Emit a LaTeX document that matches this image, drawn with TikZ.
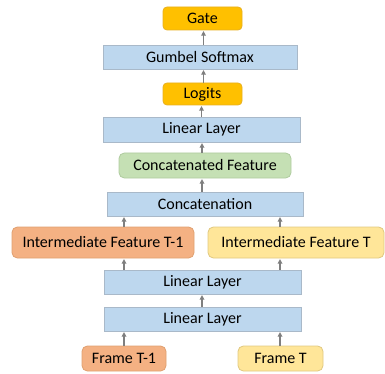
\documentclass[tikz,border=0pt]{standalone}
\usepackage{fontspec}
\setmainfont{Carlito}
\usetikzlibrary{arrows.meta}
\definecolor{bluef}{HTML}{BDD7EE}
\definecolor{bluel}{HTML}{A9B9C9}
\definecolor{goldf}{HTML}{FFC000}
\definecolor{goldl}{HTML}{E8B020}
\definecolor{orangef}{HTML}{F4B183}
\definecolor{orangel}{HTML}{E0A070}
\definecolor{yellowf}{HTML}{FFE699}
\definecolor{yellowl}{HTML}{E0C880}
\definecolor{greenf}{HTML}{C5E0B4}
\definecolor{greenl}{HTML}{AFCB9F}
\definecolor{arr}{HTML}{7F7F7F}
\tikzset{
  base/.style={inner sep=0pt, font=\fontsize{12}{14}\selectfont, text=black, line width=0.6pt},
  layerbox/.style={base, rectangle, fill=bluef, draw=bluel},
  goldbox/.style={base, rectangle, rounded corners=3pt, fill=goldf, draw=goldl},
  orangebox/.style={base, rectangle, rounded corners=4pt, fill=orangef, draw=orangel},
  yellowbox/.style={base, rectangle, rounded corners=4pt, fill=yellowf, draw=yellowl},
  greenbox/.style={base, rectangle, rounded corners=4pt, fill=greenf, draw=greenl},
  conn/.style={draw=arr, line width=0.9pt, -{Triangle[length=3.5pt,width=3.5pt]}, shorten >=0.5pt}
}
\begin{document}
\begin{tikzpicture}[x=0.75pt, y=-0.75pt]
\useasboundingbox (0,0) rectangle (385,374);
\node[goldbox, minimum width=59.25pt, minimum height=17.25pt] (gate) at (202.5,18.5) {Gate};
\node[layerbox, minimum width=145.5pt, minimum height=18pt] (gumbel) at (200,57) {Gumbel Softmax};
\node[goldbox, minimum width=59.25pt, minimum height=16.5pt] (logits) at (202.5,94) {Logits};
\node[layerbox, minimum width=147.75pt, minimum height=18.75pt] (lin1) at (201.5,129.5) {Linear Layer};
\node[greenbox, minimum width=129pt, minimum height=18.75pt] (cf) at (205,165.5) {Concatenated Feature};
\node[layerbox, minimum width=147pt, minimum height=18pt] (concat) at (205,204) {Concatenation};
\node[orangebox, minimum width=136.5pt, minimum height=23.25pt] (ift1) at (103,242.5) {Intermediate Feature T-1};
\node[yellowbox, minimum width=132pt, minimum height=23.25pt] (ift) at (296,242.5) {Intermediate Feature T};
\node[layerbox, minimum width=147.75pt, minimum height=18pt] (lin2) at (202.5,282) {Linear Layer};
\node[layerbox, minimum width=147.75pt, minimum height=18pt] (lin3) at (202.5,319) {Linear Layer};
\node[orangebox, minimum width=63pt, minimum height=18.75pt] (f1) at (124,358.5) {Frame T-1};
\node[yellowbox, minimum width=63.75pt, minimum height=18.75pt] (f) at (280.5,358.5) {Frame T};
% connectors
\draw[conn] (gumbel.north -| gate.south) ++(1,0) coordinate (a1) -- (a1 |- gate.south);
\draw[conn] (gumbel.north -| logits.north) ++(1,0) coordinate (a2) (a2 |- logits.north) -- (a2 |- gumbel.south);
\draw[conn] (lin1.north -| logits.south) ++(-1,0) coordinate (a3) (a3 |- lin1.north) -- (a3 |- logits.south);
\draw[conn] ([xshift=0pt]lin1.south -| 202,0) coordinate (a4) (a4 |- cf.north) -- (a4 |- lin1.south);
\draw[conn] (202,0) coordinate (a5) (a5 |- concat.north) -- (a5 |- cf.south);
\draw[conn] (124,0) coordinate (a6) (a6 |- ift1.north) -- (a6 |- concat.south);
\draw[conn] (280,0) coordinate (a7) (a7 |- ift.north) -- (a7 |- concat.south);
\draw[conn] (a6 |- lin2.north) -- (a6 |- ift1.south);
\draw[conn] (a7 |- lin2.north) -- (a7 |- ift.south);
\draw[conn] (a5 |- lin3.north) -- (a5 |- lin2.south);
\draw[conn] (a6 |- f1.north) -- (a6 |- lin3.south);
\draw[conn] (a7 |- f.north) -- (a7 |- lin3.south);
\end{tikzpicture}
\end{document}
